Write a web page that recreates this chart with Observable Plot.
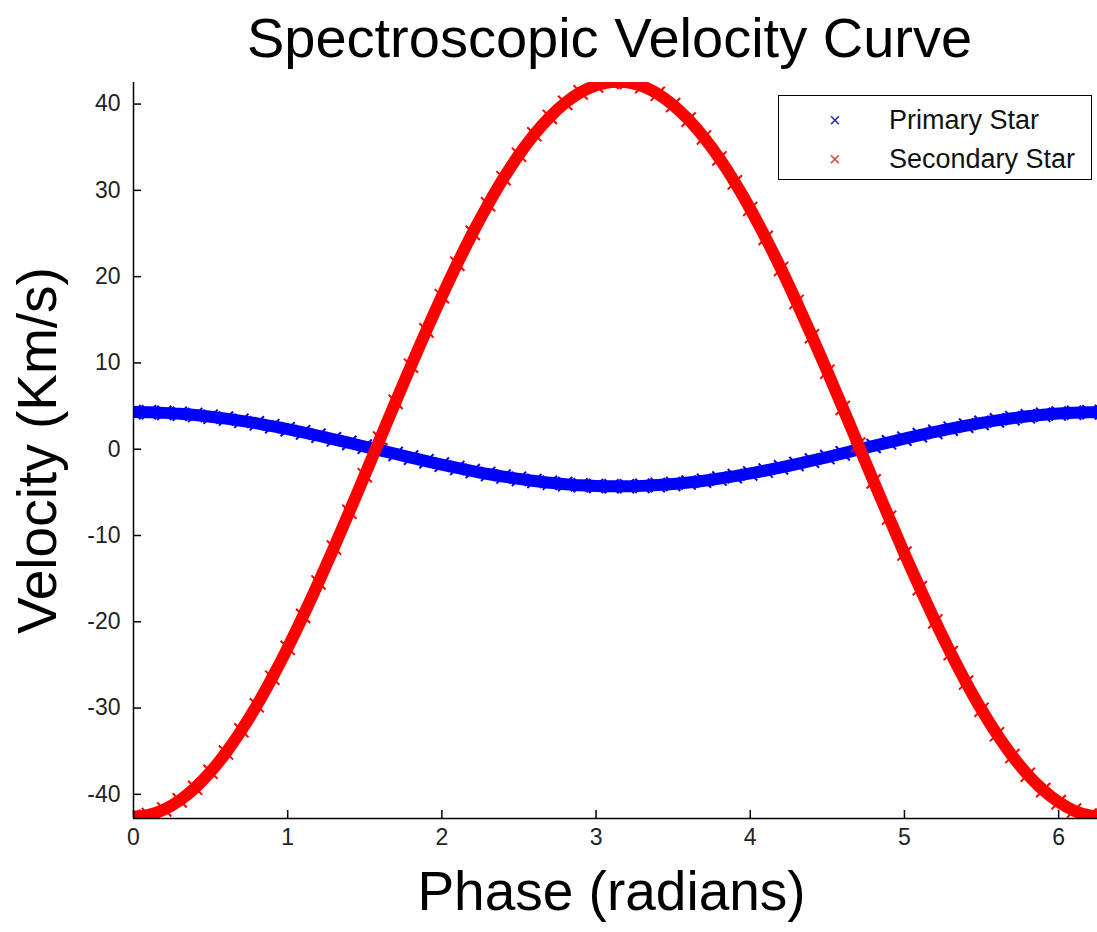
<!DOCTYPE html>
<html>
<head>
<meta charset="utf-8">
<script src="https://cdn.jsdelivr.net/npm/d3@7"></script>
<script src="https://cdn.jsdelivr.net/npm/@observablehq/plot@0.6"></script>
<style>
  html, body { margin: 0; padding: 0; background: #fff; overflow: hidden; }
  #wrap { position: relative; width: 1097px; height: 932px; }
  .legend { position: absolute; left: 778px; top: 95px; width: 312px; height: 83px;
    border: 1.5px solid #000; background: #fff;
    font-family: Arial, "Liberation Sans", sans-serif; font-size: 27px; color: #111; }
  .legend .mk { position: absolute; left: 50px; font-size: 20px; line-height: 20px; }
  .legend .lb { position: absolute; left: 110px; line-height: 30px; }
</style>
</head>
<body>
<div id="wrap"></div>
<script>
// ---- data ----
const phase = [0,0.1,0.2,0.3,0.4,0.5,0.6,0.7,0.8,0.9,1.0,1.1,1.2,1.3,1.4,1.5,1.6,1.7,1.8,1.9,2.0,2.1,2.2,2.3,2.4,2.5,2.6,2.7,2.8,2.9,3.0,3.1,3.2,3.3,3.4,3.5,3.6,3.7,3.8,3.9,4.0,4.1,4.2,4.3,4.4,4.5,4.6,4.7,4.8,4.9,5.0,5.1,5.2,5.3,5.4,5.5,5.6,5.7,5.8,5.9,6.0,6.1,6.2,6.28];
const primary = [4.30,4.28,4.21,4.11,3.96,3.77,3.55,3.29,3.00,2.67,2.32,1.95,1.56,1.15,0.73,0.30,-0.13,-0.55,-0.98,-1.39,-1.79,-2.17,-2.53,-2.87,-3.17,-3.44,-3.68,-3.89,-4.05,-4.18,-4.26,-4.30,-4.29,-4.25,-4.16,-4.03,-3.86,-3.65,-3.40,-3.12,-2.81,-2.47,-2.11,-1.72,-1.32,-0.91,-0.48,-0.05,0.38,0.80,1.22,1.63,2.01,2.38,2.73,3.05,3.34,3.59,3.81,3.99,4.13,4.23,4.28,4.30];
const secondary = [-42.60,-42.39,-41.75,-40.70,-39.24,-37.39,-35.16,-32.58,-29.68,-26.48,-23.02,-19.32,-15.44,-11.40,-7.24,-3.01,1.24,5.49,9.68,13.77,17.73,21.50,25.07,28.38,31.41,34.13,36.50,38.51,40.14,41.36,42.17,42.56,42.53,42.07,41.19,39.89,38.20,36.13,33.70,30.92,27.84,24.49,20.89,17.07,13.09,8.98,4.78,0.53,-3.73,-7.94,-12.09,-16.10,-19.96,-23.62,-27.04,-30.19,-33.04,-35.56,-37.72,-39.51,-40.90,-41.89,-42.45,-42.60];
const seriesNames = ["Primary Star", "Secondary Star"];
const seriesColors = ["#0000ff", "#ff0000"];
const xTicks = [0, 1, 2, 3, 4, 5, 6];
const yTicks = [-40, -30, -20, -10, 0, 10, 20, 30, 40];
const xDomain = [0, 6.252];
const yDomain = [-42.8, 42.5];
const titleText = "Spectroscopic Velocity Curve";
const xLabelText = "Phase (radians)";
const yLabelText = "Velocity (Km/s)";

// ---- build tables ----
const primaryRows = phase.map((p, i) => ({phase: p, v: primary[i], s: seriesNames[0]}));
const secondaryRows = phase.map((p, i) => ({phase: p, v: secondary[i], s: seriesNames[1]}));

const W = 1097, H = 932, mL = 133, mR = 0, mT = 82, mB = 114;
const plotW = W - mL - mR, plotH = H - mT - mB;
const font = "Arial, 'Liberation Sans', sans-serif";

const seriesMarks = (rows) => [
  Plot.line(rows, {x: "phase", y: "v", stroke: "s", strokeWidth: 12, curve: "catmull-rom", clip: true}),
  Plot.dot(rows, {x: "phase", y: "v", stroke: "s", symbol: "times", r: 6.5, strokeWidth: 2, clip: true})
];

const chart = Plot.plot({
  width: W, height: H,
  marginLeft: mL, marginRight: mR, marginTop: mT, marginBottom: mB,
  style: {fontFamily: font, fontSize: "23px", color: "#000", background: "#fff", overflow: "hidden"},
  x: {domain: xDomain},
  y: {domain: yDomain},
  color: {domain: seriesNames, range: seriesColors},
  marks: [
    ...seriesMarks(primaryRows),
    ...seriesMarks(secondaryRows),
    Plot.ruleX([xDomain[0]], {stroke: "#000", strokeWidth: 1.5}),
    Plot.ruleY([yDomain[0]], {stroke: "#000", strokeWidth: 1.5}),
    Plot.tickX(xTicks, {x: d => d, insetTop: plotH - 8, stroke: "#000", strokeWidth: 1.5}),
    Plot.tickY(yTicks, {y: d => d, insetRight: plotW - 8, stroke: "#000", strokeWidth: 1.5}),
    Plot.axisX({ticks: xTicks, tickSize: 0, tickPadding: 10, label: null, tickFormat: d => String(d), fill: "#222"}),
    Plot.axisY({ticks: yTicks, tickSize: 0, tickPadding: 13, label: null, tickFormat: d => String(d), fill: "#222"}),
    Plot.text([titleText], {text: d => d, frameAnchor: "top", dx: -6, dy: -65, fontSize: 56, fill: "#000"}),
    Plot.text([xLabelText], {text: d => d, frameAnchor: "bottom", dx: -4, dy: 91, fontSize: 55, fill: "#000"}),
    Plot.text([yLabelText], {text: d => d, frameAnchor: "left", textAnchor: "middle", dx: -95, rotate: -90, fontSize: 55, fill: "#000"})
  ]
});

const wrap = document.getElementById("wrap");
wrap.appendChild(chart);

// legend
const legend = document.createElement("div");
legend.className = "legend";
seriesNames.forEach((name, i) => {
  const top = i === 0 ? 9 : 48;
  const mk = document.createElement("span");
  mk.className = "mk";
  mk.textContent = "×";
  mk.style.color = i === 0 ? "#2a2a90" : "#d04848";
  mk.style.top = (top + 5) + "px";
  const lb = document.createElement("span");
  lb.className = "lb";
  lb.textContent = name;
  lb.style.top = top + "px";
  legend.appendChild(mk);
  legend.appendChild(lb);
});
wrap.appendChild(legend);
</script>
</body>
</html>
